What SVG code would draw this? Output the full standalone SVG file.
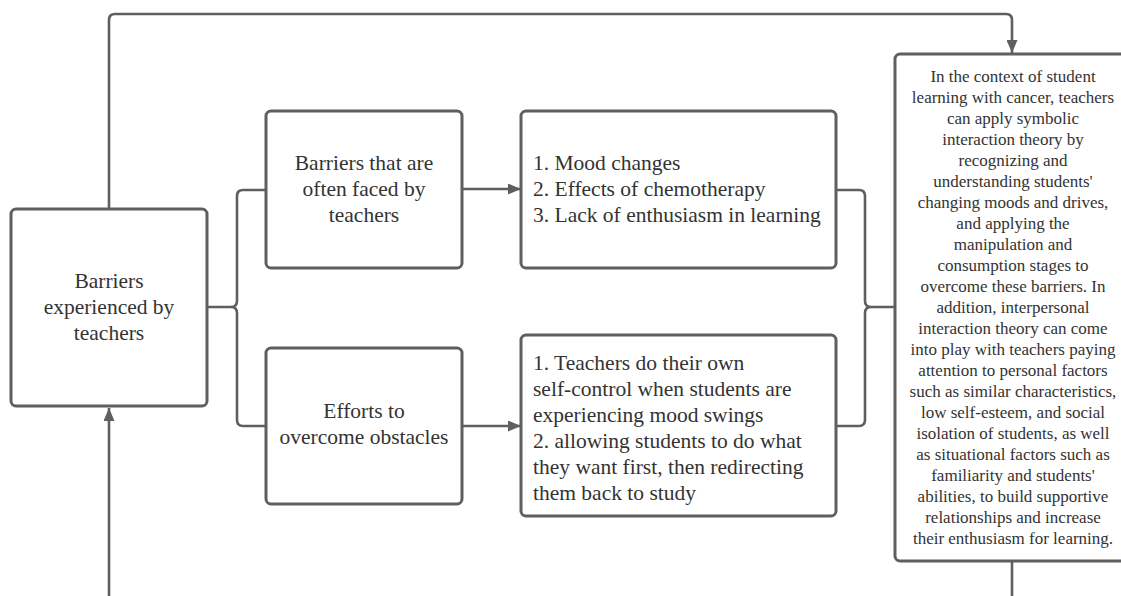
<svg xmlns="http://www.w3.org/2000/svg" width="1121" height="596" viewBox="0 0 1121 596">
<style>
.box{fill:#fff;stroke:#5f5f5f;stroke-width:3}
.ln{fill:none;stroke:#5f5f5f;stroke-width:2.6}
.t{font-family:"Liberation Serif","Times New Roman",serif;font-size:21.5px;fill:#333}
.c{text-anchor:middle}
.s{font-family:"Liberation Serif","Times New Roman",serif;font-size:17px;fill:#333;text-anchor:middle}
</style>
<defs>
<marker id="ah" markerUnits="userSpaceOnUse" markerWidth="13" markerHeight="11" refX="13" refY="5.5" orient="auto">
<path d="M0,0 L13,5.5 L0,11 z" fill="#5f5f5f"/>
</marker>
</defs>
<rect width="1121" height="596" fill="#fff"/>
<g id="connectors">
<path class="ln" d="M109,209 V20 Q109,14 115,14 H1006 Q1012,14 1012,20 V53" marker-end="url(#ah)"/>
<path class="ln" d="M109,596 V408" marker-end="url(#ah)"/>
<path class="ln" d="M1012,561 V596"/>
<path class="ln" d="M207,307 H231 Q237,307 237,301 V196 Q237,190 243,190 H266"/>
<path class="ln" d="M231,307 Q237,307 237,313 V420 Q237,426 243,426 H266"/>
<path class="ln" d="M462,189 H521" marker-end="url(#ah)"/>
<path class="ln" d="M462,426 H521" marker-end="url(#ah)"/>
<path class="ln" d="M836,190 H859 Q865,190 865,196 V301 Q865,307 871,307 H895"/>
<path class="ln" d="M836,426 H859 Q865,426 865,420 V313 Q865,307 871,307"/>
</g>
<g id="node-main">
<rect class="box" x="11" y="209" width="196" height="197" rx="5"/>
<text class="t c" x="109" y="288">Barriers</text>
<text class="t c" x="109" y="314">experienced by</text>
<text class="t c" x="109" y="340">teachers</text>
</g>
<g id="node-barriers">
<rect class="box" x="266" y="111" width="196" height="157" rx="5"/>
<text class="t c" x="364" y="170">Barriers that are</text>
<text class="t c" x="364" y="196">often faced by</text>
<text class="t c" x="364" y="222">teachers</text>
</g>
<g id="node-efforts">
<rect class="box" x="266" y="348" width="196" height="156" rx="5"/>
<text class="t c" x="364" y="418">Efforts to</text>
<text class="t c" x="364" y="444">overcome obstacles</text>
</g>
<g id="node-list1">
<rect class="box" x="521" y="111" width="315" height="157" rx="5"/>
<text class="t" x="533" y="170">1. Mood changes</text>
<text class="t" x="533" y="196">2. Effects of chemotherapy</text>
<text class="t" x="533" y="222">3. Lack of enthusiasm in learning</text>
</g>
<g id="node-list2">
<rect class="box" x="521" y="335" width="315" height="181" rx="5"/>
<text class="t" x="533" y="370">1. Teachers do their own</text>
<text class="t" x="533" y="396">self-control when students are</text>
<text class="t" x="533" y="422">experiencing mood swings</text>
<text class="t" x="533" y="448">2. allowing students to do what</text>
<text class="t" x="533" y="474">they want first, then redirecting</text>
<text class="t" x="533" y="500">them back to study</text>
</g>
<g id="node-summary">
<rect class="box" x="895" y="54" width="240" height="507" rx="5"/>
<text class="s" x="1013" y="82">In the context of student</text>
<text class="s" x="1013" y="103">learning with cancer, teachers</text>
<text class="s" x="1013" y="124">can apply symbolic</text>
<text class="s" x="1013" y="145">interaction theory by</text>
<text class="s" x="1013" y="166">recognizing and</text>
<text class="s" x="1013" y="187">understanding students'</text>
<text class="s" x="1013" y="208">changing moods and drives,</text>
<text class="s" x="1013" y="229">and applying the</text>
<text class="s" x="1013" y="250">manipulation and</text>
<text class="s" x="1013" y="271">consumption stages to</text>
<text class="s" x="1013" y="292">overcome these barriers. In</text>
<text class="s" x="1013" y="313">addition, interpersonal</text>
<text class="s" x="1013" y="334">interaction theory can come</text>
<text class="s" x="1013" y="355">into play with teachers paying</text>
<text class="s" x="1013" y="376">attention to personal factors</text>
<text class="s" x="1013" y="397">such as similar characteristics,</text>
<text class="s" x="1013" y="418">low self-esteem, and social</text>
<text class="s" x="1013" y="439">isolation of students, as well</text>
<text class="s" x="1013" y="460">as situational factors such as</text>
<text class="s" x="1013" y="481">familiarity and students'</text>
<text class="s" x="1013" y="502">abilities, to build supportive</text>
<text class="s" x="1013" y="523">relationships and increase</text>
<text class="s" x="1013" y="544">their enthusiasm for learning.</text>
</g>
</svg>
